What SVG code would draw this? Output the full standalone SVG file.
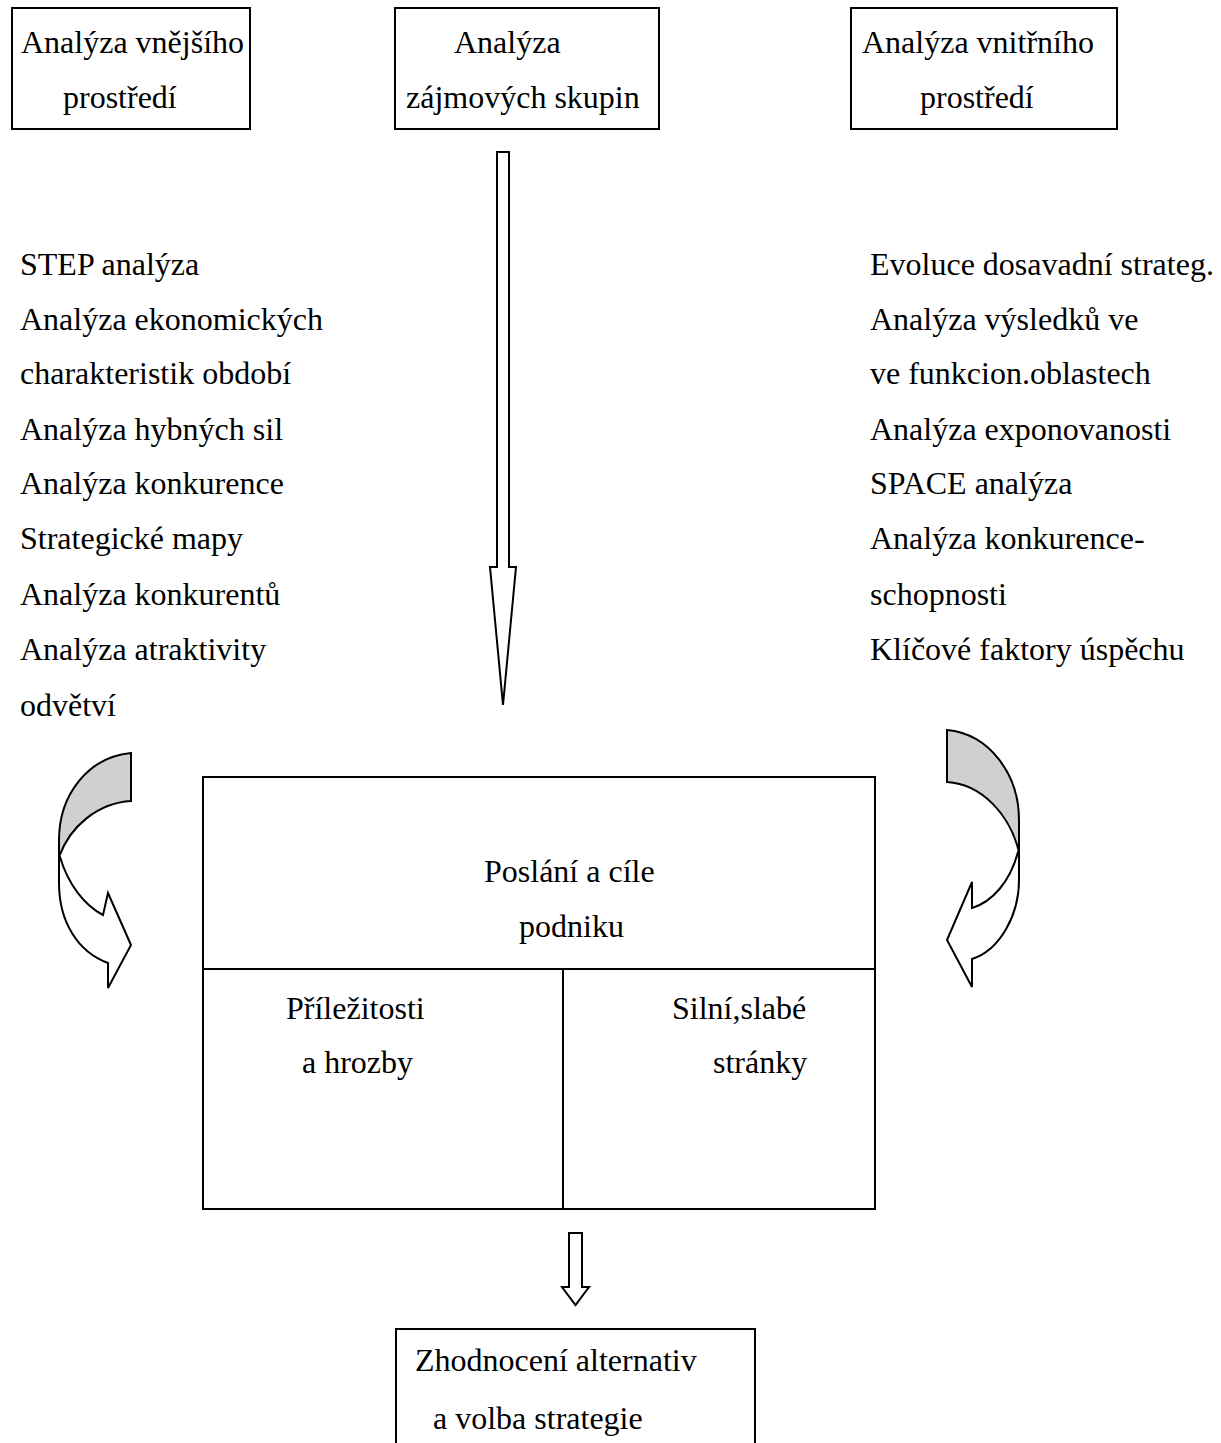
<svg xmlns="http://www.w3.org/2000/svg" width="1221" height="1443" viewBox="0 0 1221 1443">
  <style>
    text { font-family: "Liberation Serif", "Times New Roman", serif; font-size: 32px; fill: #000; }
    .box { fill: #fff; stroke: #000; stroke-width: 2; }
    .line { fill: none; stroke: #000; stroke-width: 2; }
    .arrow { fill: #fff; stroke: #000; stroke-width: 2; stroke-linejoin: miter; }
    .back { fill: #d0d0d0; stroke: #000; stroke-width: 2; }
  </style>
  <rect width="1221" height="1443" fill="#fff"/>

  <!-- top row of analysis boxes -->
  <g id="node-vnejsi">
    <rect class="box" x="12" y="8" width="238" height="121"/>
    <text x="21" y="53">Analýza vnějšího</text>
    <text x="63" y="108">prostředí</text>
  </g>
  <g id="node-zajmove">
    <rect class="box" x="395" y="8" width="264" height="121"/>
    <text x="454" y="53">Analýza</text>
    <text x="406" y="108">zájmových skupin</text>
  </g>
  <g id="node-vnitrni">
    <rect class="box" x="851" y="8" width="266" height="121"/>
    <text x="862" y="53">Analýza vnitřního</text>
    <text x="920" y="108">prostředí</text>
  </g>

  <!-- lists of methods -->
  <g id="node-list-vnejsi">
    <text x="20" y="275">STEP analýza</text>
    <text x="20" y="330">Analýza ekonomických</text>
    <text x="20" y="384">charakteristik období</text>
    <text x="20" y="440">Analýza hybných sil</text>
    <text x="20" y="494">Analýza konkurence</text>
    <text x="20" y="549">Strategické mapy</text>
    <text x="20" y="605">Analýza konkurentů</text>
    <text x="20" y="660">Analýza atraktivity</text>
    <text x="20" y="716">odvětví</text>
  </g>
  <g id="node-list-vnitrni">
    <text x="870" y="275">Evoluce dosavadní strateg.</text>
    <text x="870" y="330">Analýza výsledků ve</text>
    <text x="870" y="384">ve funkcion.oblastech</text>
    <text x="870" y="440">Analýza exponovanosti</text>
    <text x="870" y="494">SPACE analýza</text>
    <text x="870" y="549">Analýza konkurence-</text>
    <text x="870" y="605">schopnosti</text>
    <text x="870" y="660">Klíčové faktory úspěchu</text>
  </g>

  <!-- central box: mission, opportunities/threats, strengths/weaknesses -->
  <g id="node-poslani">
    <rect class="box" x="203" y="777" width="672" height="432"/>
    <line class="line" x1="203" y1="969" x2="875" y2="969"/>
    <line class="line" x1="563" y1="969" x2="563" y2="1209"/>
    <text x="484" y="882">Poslání a cíle</text>
    <text x="519" y="937">podniku</text>
  </g>
  <g id="node-prilezitosti">
    <text x="286" y="1019">Příležitosti</text>
    <text x="302" y="1073">a hrozby</text>
  </g>
  <g id="node-silne">
    <text x="672" y="1019">Silní,slabé</text>
    <text x="713" y="1073">stránky</text>
  </g>

  <!-- final box -->
  <g id="node-zhodnoceni">
    <rect class="box" x="396" y="1329" width="359" height="130"/>
    <text x="415" y="1371">Zhodnocení alternativ</text>
    <text x="433" y="1429">a volba strategie</text>
  </g>

  <!-- block arrows -->
  <g id="connectors">
    <polygon class="arrow" points="497,152 509,152 509,567 516,567 503,705 490,567 497,567"/>
    <polygon class="arrow" points="569,1233 582,1233 582,1287 589,1287 575.5,1305 562,1287 569,1287"/>

    <!-- left curved arrow -->
    <path class="back" d="M131,753 C88,757 59,795 59,840 L59,857 C70,826 98,803 131,801 Z"/>
    <path class="arrow" d="M60,857 C68,884 84,905 103,915 L108,893 L131,945 L108,988 L108,963 C78,952 59,922 59,883 L59,857 Z"/>

    <!-- right curved arrow -->
    <path class="back" d="M947,730 C990,734 1019,775 1019,820 L1019,852 C1010,815 982,784 947,782 Z"/>
    <path class="arrow" d="M1018,852 C1010,882 992,902 972,908 L972,882 L947,940 L972,987 L972,959 C1000,950 1019,915 1019,880 L1019,852 Z"/>
  </g>
</svg>
